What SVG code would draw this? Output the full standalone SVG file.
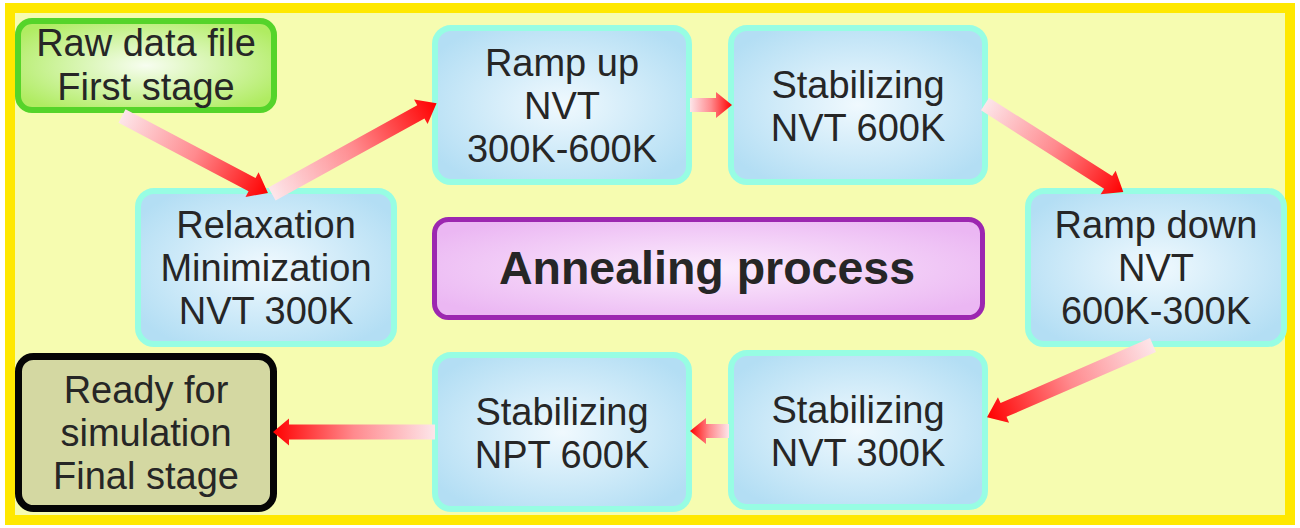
<svg xmlns="http://www.w3.org/2000/svg" width="1300" height="528" viewBox="0 0 1300 528">
  <defs>
    <radialGradient id="gBlue" cx="50%" cy="50%" r="60%">
      <stop offset="0" stop-color="#f0f9fe"/>
      <stop offset="1" stop-color="#b3def4"/>
    </radialGradient>
    <radialGradient id="gGreen" cx="50%" cy="50%" r="60%">
      <stop offset="0" stop-color="#f7fdf0"/>
      <stop offset="1" stop-color="#b0ec62"/>
    </radialGradient>
    <radialGradient id="gPurple" cx="50%" cy="50%" r="60%">
      <stop offset="0" stop-color="#fcedfd"/>
      <stop offset="1" stop-color="#ebb7f3"/>
    </radialGradient>
    <linearGradient id="gArrow" x1="0" y1="0" x2="1" y2="0">
      <stop offset="0" stop-color="#fde6ea"/>
      <stop offset="0.5" stop-color="#ff8a8e"/>
      <stop offset="1" stop-color="#ff0000"/>
    </linearGradient>
    <style>
      .step { fill: url(#gBlue); stroke: #97fde3; stroke-width: 6; }
      .start { fill: url(#gGreen); stroke: #55d42a; stroke-width: 6; }
      .finish { fill: #d4d8a2; stroke: #050505; stroke-width: 7; }
      .title { fill: url(#gPurple); stroke: #9c27b0; stroke-width: 5; }
      text { font-family: "Liberation Sans", Arial, sans-serif; font-size: 38px; fill: #262626; text-anchor: middle; }
      .big { font-size: 46.5px; font-weight: bold; }
      .arrow { fill: url(#gArrow); }
    </style>
  </defs>

  <!-- frame -->
  <rect x="10" y="8" width="1280" height="512" fill="#f6fcb0" stroke="#ffe800" stroke-width="10"/>

  <g id="raw-data">
    <rect class="start" x="18" y="21" width="256" height="89" rx="14"/>
    <text x="146" y="56">Raw data file</text>
    <text x="146" y="100">First stage</text>
  </g>

  <g id="relaxation">
    <rect class="step" x="138" y="191" width="256" height="153" rx="16"/>
    <text x="266" y="238">Relaxation</text>
    <text x="266" y="281">Minimization</text>
    <text x="266" y="324">NVT 300K</text>
  </g>

  <g id="ramp-up">
    <rect class="step" x="435" y="28" width="254" height="154" rx="16"/>
    <text x="562" y="76">Ramp up</text>
    <text x="562" y="119">NVT</text>
    <text x="562" y="162">300K-600K</text>
  </g>

  <g id="stab-nvt-600">
    <rect class="step" x="731" y="28" width="254" height="154" rx="16"/>
    <text x="858" y="98">Stabilizing</text>
    <text x="858" y="141">NVT 600K</text>
  </g>

  <g id="ramp-down">
    <rect class="step" x="1028" y="191" width="256" height="153" rx="16"/>
    <text x="1156" y="238">Ramp down</text>
    <text x="1156" y="281">NVT</text>
    <text x="1156" y="324">600K-300K</text>
  </g>

  <g id="stab-nvt-300">
    <rect class="step" x="731" y="353" width="254" height="154" rx="16"/>
    <text x="858" y="423">Stabilizing</text>
    <text x="858" y="466">NVT 300K</text>
  </g>

  <g id="stab-npt-600">
    <rect class="step" x="435" y="355" width="254" height="154" rx="16"/>
    <text x="562" y="425">Stabilizing</text>
    <text x="562" y="468">NPT 600K</text>
  </g>

  <g id="ready">
    <rect class="finish" x="18.5" y="356.5" width="255" height="152" rx="15"/>
    <text x="146" y="403">Ready for</text>
    <text x="146" y="446">simulation</text>
    <text x="146" y="489">Final stage</text>
  </g>

  <g id="annealing">
    <rect class="title" x="434.5" y="219.5" width="548" height="98" rx="14"/>
    <text class="big" x="707" y="284">Annealing process</text>
  </g>

  <!-- block arrows: drawn along +x, then placed by translate/rotate -->
  <g id="connectors">
    <path class="arrow" transform="translate(122,116) rotate(27.8)" d="M0,-7.5 H147 V-14 L165,0 L147,14 V7.5 H0 Z"/>
    <path class="arrow" transform="translate(272,194) rotate(-28.9)" d="M0,-7.5 H170 V-14 L188,0 L170,14 V7.5 H0 Z"/>
    <path class="arrow" transform="translate(690,105)" d="M0,-7 H26 V-13 L42,0 L26,13 V7 H0 Z"/>
    <path class="arrow" transform="translate(985,104) rotate(32.5)" d="M0,-7.5 H146 V-14 L164,0 L146,14 V7.5 H0 Z"/>
    <path class="arrow" transform="translate(1153,345) rotate(156.5)" d="M0,-7.5 H163 V-14 L181,0 L163,14 V7.5 H0 Z"/>
    <path class="arrow" transform="translate(729,431) rotate(180)" d="M0,-7 H23 V-13 L39,0 L23,13 V7 H0 Z"/>
    <path class="arrow" transform="translate(435,432) rotate(180)" d="M0,-7.5 H146 V-13.5 L162,0 L146,13.5 V7.5 H0 Z"/>
  </g>
</svg>
